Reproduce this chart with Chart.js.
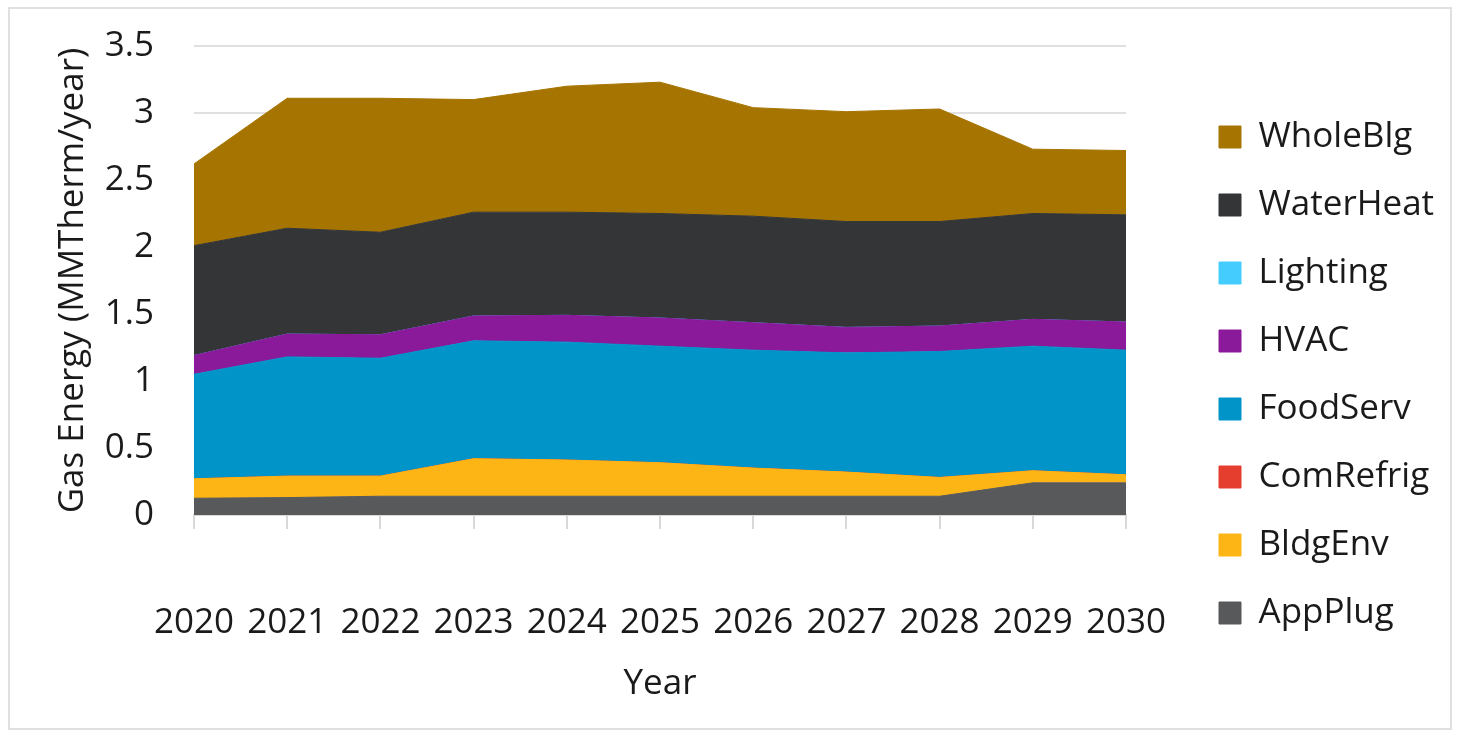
<!DOCTYPE html>
<html>
<head>
<meta charset="utf-8">
<script src="https://cdn.jsdelivr.net/npm/chart.js@4.4.1/dist/chart.umd.min.js"></script>
<style>
  html, body { margin: 0; padding: 0; background: #ffffff; }
  #wrap { position: relative; width: 1458px; height: 736px; }
  #frame { position: absolute; left: 8px; top: 7px; width: 1440px; height: 719px; border: 2px solid #e0e0e0; pointer-events: none; }
  canvas { position: absolute; left: 0; top: 0; }
</style>
</head>
<body>
<div id="wrap">
  <canvas id="gas" width="1458" height="736"></canvas>
  <div id="frame"></div>
</div>
<script>
const years = ["2020", "2021", "2022", "2023", "2024", "2025", "2026", "2027", "2028", "2029", "2030"]

// MMTherm/year per end use (stacked, bottom to top)
const appPlug   = [0.125, 0.13, 0.14, 0.14, 0.14, 0.14, 0.14, 0.14, 0.14, 0.24, 0.24]
const bldgEnv   = [0.145, 0.16, 0.15, 0.28, 0.27, 0.25, 0.21, 0.18, 0.14, 0.09, 0.06]
const comRefrig = [0, 0, 0, 0, 0, 0, 0, 0, 0, 0, 0]
const foodServ  = [0.78, 0.89, 0.88, 0.88, 0.88, 0.87, 0.88, 0.89, 0.94, 0.93, 0.93]
const hvac      = [0.14, 0.17, 0.175, 0.185, 0.20, 0.21, 0.205, 0.19, 0.19, 0.20, 0.21]
const lighting  = [0, 0, 0, 0, 0, 0, 0, 0, 0, 0, 0]
const waterHeat = [0.82, 0.79, 0.765, 0.775, 0.77, 0.78, 0.795, 0.79, 0.78, 0.79, 0.80]
const wholeBlg  = [0.61, 0.97, 1.00, 0.84, 0.94, 0.98, 0.81, 0.82, 0.84, 0.48, 0.48]

const yTicks = [0, 0.5, 1, 1.5, 2, 2.5, 3, 3.5]

const series = [
  { label: "AppPlug",   data: appPlug,   color: "#58595b" },
  { label: "BldgEnv",   data: bldgEnv,   color: "#fdb515" },
  { label: "ComRefrig", data: comRefrig, color: "#e53e2e" },
  { label: "FoodServ",  data: foodServ,  color: "#0094c9" },
  { label: "HVAC",      data: hvac,      color: "#8a1a99" },
  { label: "Lighting",  data: lighting,  color: "#45ccff" },
  { label: "WaterHeat", data: waterHeat, color: "#333537" },
  { label: "WholeBlg",  data: wholeBlg,  color: "#a67400" },
]

const txt = "#1a1a1a"
const fontFam = "'Open Sans', sans-serif"

// legend sits a little away from the plot, like the Excel original
const legendShift = {
  id: "legendShift",
  afterLayout(chart) {
    chart.legend.left += 60
    chart.legend.right += 60
  },
}

const ctx = document.getElementById("gas")

new Chart(ctx, {
  type: "line",
  data: {
    labels: years,
    datasets: series.map((s, i) => ({
      label: s.label,
      data: s.data,
      backgroundColor: s.color,
      borderColor: s.color,
      borderWidth: 1,
      pointRadius: 0,
      tension: 0,
      fill: i === 0 ? "origin" : "-1",
    })),
  },
  options: {
    responsive: false,
    animation: false,
    layout: {
      padding: { left: 50, top: 22, right: 15, bottom: 8 }
    },
    scales: {
      x: {
        offset: false,
        grid: {
          drawOnChartArea: false,
          drawTicks: true,
          tickLength: 14,
          color: "#d9d9d9",
          lineWidth: 2,
        },
        border: { color: "#d9d9d9", width: 2 },
        ticks: {
          color: txt,
          padding: 73,
          maxRotation: 0,
          font: { family: fontFam, size: 35 },
        },
        title: {
          display: true,
          text: "Year",
          color: txt,
          padding: { top: 0, bottom: 23 },
          font: { family: fontFam, size: 35 },
        },
        afterFit: (scale) => {
          scale.height = 213
          scale.paddingRight = 332
        },
      },
      y: {
        stacked: true,
        min: 0,
        max: 3.5,
        afterBuildTicks: (scale) => {
          scale.ticks = yTicks.map(v => ({ value: v }))
        },
        grid: {
          color: "#e0e0e0",
          lineWidth: 2,
          drawTicks: false,
        },
        border: { display: false },
        ticks: {
          color: txt,
          padding: 40,
          font: { family: fontFam, size: 35 },
          callback: (v) => String(v),
        },
        title: {
          display: true,
          text: "Gas Energy (MMTherm/year)",
          color: txt,
          padding: { top: 2, bottom: 0 },
          font: { family: fontFam, size: 35 },
        },
        afterFit: (scale) => {
          scale.width = 144
          scale.paddingTop = 46
        },
      },
    },
    plugins: {
      legend: {
        position: "right",
        reverse: true,
        labels: {
          color: txt,
          boxWidth: 22,
          boxHeight: 22,
          padding: 33,
          font: { family: fontFam, size: 35 },
        },
      },
      tooltip: { enabled: false },
    },
  },
  plugins: [legendShift],
})
</script>
</body>
</html>
